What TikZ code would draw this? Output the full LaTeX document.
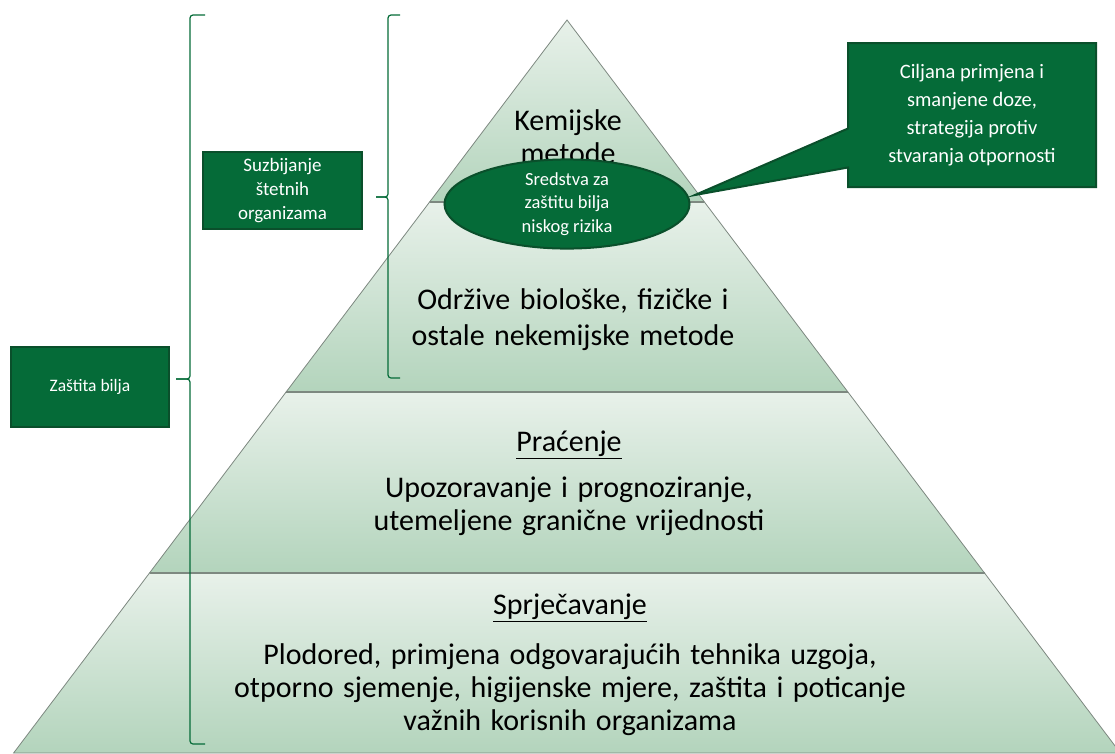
\documentclass[tikz,border=0pt]{standalone}
\usepackage{fontspec}
\setmainfont{Carlito}
\newfontfamily\levelfamily{Carlito}[WordSpace=1.4]
\usetikzlibrary{positioning, shapes.geometric, shapes.callouts}

\definecolor{boxgreen}{HTML}{056B38}
\definecolor{edgegreen}{HTML}{0A4F2B}
\definecolor{leveltop}{HTML}{E8F1EA}
\definecolor{levelbottom}{HTML}{B3D4BC}
\definecolor{levelline}{HTML}{7D8880}

\tikzset{
	level/.style={top color=leveltop, bottom color=levelbottom, draw=levelline, line width=0.8pt},
	greenbox/.style={fill=boxgreen, draw=edgegreen, line width=2pt, text=white, align=center},
	leveltext/.style={align=center, font=\levelfamily\fontsize{30}{33}\selectfont},
	bracket/.style={draw=boxgreen, line width=1.2pt, rounded corners=3pt},
}

\begin{document}
\begin{tikzpicture}[x=1pt, y=-1pt]
				\useasboundingbox (0,0) rectangle (1115,753);
				
				%% Razine piramide
				\shade [level] (13.6,753) -- (149.5,573) -- (984.5,573) -- (1120.4,753) -- cycle;
				\shade [level] (149.5,573) -- (286.1,392) -- (847.9,392) -- (984.5,573) -- cycle;
				\shade [level] (286.1,392) -- (429.6,202) -- (704.4,202) -- (847.9,392) -- cycle;
				\shade [level] (429.6,202) -- (567,20) -- (704.4,202) -- cycle;
				
				%% Granice razina
				\draw [levelline, line width=1.8pt] (429.6,202) -- (704.4,202);
				\draw [levelline, line width=1.8pt] (286.1,392) -- (847.9,392);
				\draw [levelline, line width=1.8pt] (149.5,573) -- (984.5,573);
				
				%% Tekst razina
				\node [leveltext] (chemical) at (568,137) {Kemijske\\metode};
				\node [leveltext, font=\levelfamily\fontsize{30}{36}\selectfont] (sustainable) at (573,320) {Održive biološke, fizičke i\\ostale nekemijske metode};
				\node [leveltext] (monitoring) at (569,445) {\underline{Praćenje}};
				\node [leveltext] (warning) at (569,506) {Upozoravanje i prognoziranje,\\utemeljene granične vrijednosti};
				\node [leveltext] (prevention) at (570,608) {\underline{Sprječavanje}};
				\node [leveltext] (measures) at (570,690) {Plodored, primjena odgovarajućih tehnika uzgoja,\\otporno sjemenje, higijenske mjere, zaštita i poticanje\\važnih korisnih organizama};
				
				%% Sredstva niskog rizika
				\node [ellipse, greenbox, minimum width=245pt, minimum height=76pt, inner sep=0pt,
				font=\fontsize{18.5}{23.5}\selectfont] (lowrisk) at (567,204) {Sredstva za\\zaštitu bilja\\niskog rizika};
				
				%% Oblacic
				\coordinate (pointertip) at (695,195);
				\node [rectangle callout, greenbox, minimum width=248pt, minimum height=144pt,
				callout absolute pointer={(pointertip)}, callout pointer width=39pt,
				font=\fontsize{20.5}{28}\selectfont] (targeted) at (972,115)
				{Ciljana primjena i\\smanjene doze,\\strategija protiv\\stvaranja otpornosti};
				
				%% Zagrade
				\draw [bracket] (205,15) -| (190,379) -- (176,379);
				\draw [bracket] (176,379) -- (190,379) |- (205,744);
				\draw [bracket] (400,15) -| (388,197) -- (376,197);
				\draw [bracket] (376,197) -- (388,197) |- (400,378);
				
				%% Oznake zagrada
				\node [greenbox, minimum width=158pt, minimum height=80pt,
				font=\fontsize{17.5}{23.7}\selectfont] (protection) at (90,387) {Zaštita bilja};
				\node [greenbox, minimum width=159pt, minimum height=77pt, inner sep=0pt,
				font=\fontsize{19}{23.7}\selectfont] (suppression) at (282.5,190.5) {Suzbijanje\\štetnih\\organizama};
				
			\end{tikzpicture}
\end{document}
